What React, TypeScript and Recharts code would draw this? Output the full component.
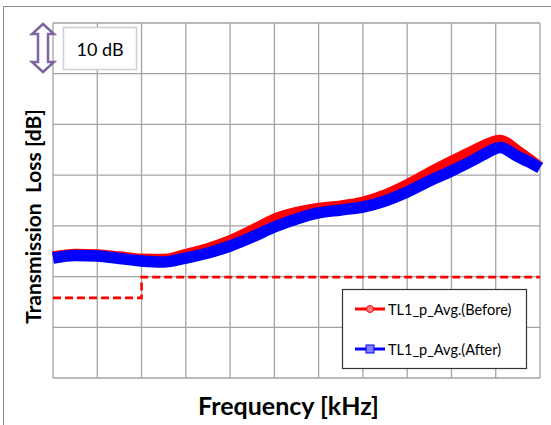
import React from 'react';
import { ComposedChart, Line, XAxis, YAxis, CartesianGrid } from 'recharts';

// Frequency positions (grid units, 11 divisions across the axis)
const freqSteps = [0, 0.5, 1, 1.5, 2, 2.5, 3, 3.5, 4, 4.5, 5, 5.5, 6, 6.5, 7, 7.5, 8, 8.5, 9, 9.5, 9.75, 10.1, 10.5, 10.75, 11];
// Transmission loss (dB scale, 10 dB per grid division)
const tlBefore = [23.9, 24.4, 24.3, 23.9, 23.45, 23.4, 24.4, 25.55, 27.1, 29.15, 31.35, 32.65, 33.5, 33.95, 34.7, 36.1, 38.1, 40.5, 42.75, 44.85, 45.95, 46.9, 44.75, 43.2, 41.55];
const tlAfter = [23.66, 24.16, 24.06, 23.56, 23.07, 22.87, 23.66, 24.65, 26.03, 27.8, 29.78, 31.36, 32.54, 33.13, 33.72, 34.91, 36.68, 38.85, 40.82, 42.99, 44.17, 45.45, 43.64, 42.6, 41.41];
// Dashed criterion line (step)
const limitFreq = [0, 2, 11];
const limitTL = [15.8, 19.9, 19.9];

const xTicks = [0, 1, 2, 3, 4, 5, 6, 7, 8, 9, 10, 11];
const yTicks = [0, 10, 20, 30, 40, 50, 60, 70];

const seriesNames = ['TL1_p_Avg.(Before)', 'TL1_p_Avg.(After)'];
const scaleLabel = '10 dB';

const beforeData = freqSteps.map((f, i) => ({ f, v: tlBefore[i] }));
const afterData = freqSteps.map((f, i) => ({ f, v: tlAfter[i] }));
const limitData = limitFreq.map((f, i) => ({ f, v: limitTL[i] }));

const FONT = 'Lato, "Open Sans", sans-serif';

const XLabel = (props: any) => {
  const { viewBox } = props;
  const cx = viewBox.x + viewBox.width / 2 - 8;
  return (
    <text x={cx} y={viewBox.y + 37} textAnchor="middle" fontFamily={FONT} fontWeight={700} fontSize={25} fill="#000">
      Frequency [kHz]
    </text>
  );
};

const YLabel = (props: any) => {
  const { viewBox } = props;
  const cx = 32;
  const cy = viewBox.y + viewBox.height / 2 + 16;
  return (
    <text x={cx} y={cy} transform={`rotate(-90 ${cx} ${cy})`} textAnchor="middle" dominantBaseline="central" fontFamily={FONT} fontWeight={700} fontSize={21} fill="#000" style={{ whiteSpace: 'pre' }}>
      {'Transmission  Loss [dB]'}
    </text>
  );
};

const vGen = (args: any) => {
  const { xAxis, offset } = args;
  if (xAxis && typeof xAxis.scale === 'function') return xTicks.map((t) => xAxis.scale(t));
  return xTicks.map((t) => offset.left + (t / 11) * offset.width);
};
const hGen = (args: any) => {
  const { yAxis, offset } = args;
  if (yAxis && typeof yAxis.scale === 'function') return yTicks.map((t) => yAxis.scale(t));
  return yTicks.map((t) => offset.top + offset.height - (t / 70) * offset.height);
};

export default function App() {
  return (
    <div style={{ position: 'absolute', left: 0, top: 0, width: 551, height: 425, background: '#fff', overflow: 'hidden' }}>
      <div style={{ position: 'absolute', left: 3, top: 6, width: 600, height: 600, borderLeft: '1.5px solid #8a8a8a', borderTop: '1.5px solid #8a8a8a' }} />
      <div style={{ position: 'absolute', left: 0, top: 0 }}>
        <ComposedChart width={551} height={425} margin={{ top: 23, right: 11, bottom: 0, left: 0 }}>
          <CartesianGrid stroke="#a3a3a3" strokeWidth={1.3} verticalCoordinatesGenerator={vGen} horizontalCoordinatesGenerator={hGen} />
          <XAxis dataKey="f" type="number" domain={[0, 11]} ticks={xTicks} allowDuplicatedCategory={false} height={47} tick={false} tickLine={false} axisLine={false} label={<XLabel />} />
          <YAxis type="number" domain={[0, 70]} ticks={yTicks} width={53} tick={false} tickLine={false} axisLine={false} label={<YLabel />} />
          <Line data={limitData} dataKey="v" type="stepAfter" stroke="#ff0000" strokeWidth={2.6} strokeDasharray="8 4" dot={false} isAnimationActive={false} />
          <Line data={beforeData} dataKey="v" type="monotone" stroke="#ff0000" strokeWidth={11} dot={false} isAnimationActive={false} />
          <Line data={afterData} dataKey="v" type="monotone" stroke="#0000ff" strokeWidth={11.5} dot={false} isAnimationActive={false} />
        </ComposedChart>
      </div>
      <svg width={551} height={425} style={{ position: 'absolute', left: 0, top: 0 }}>
        {/* scale box */}
        <rect x={63.5} y={27.5} width={73} height={42} fill="#fff" stroke="#cfcfcf" strokeWidth={1.5} />
        <text x={100} y={49} textAnchor="middle" dominantBaseline="central" fontFamily={FONT} fontSize={18} fill="#000">{scaleLabel}</text>
        {/* double arrow */}
        <path d="M43,24 L54,34 L48,34 L48,62 L54,62 L43,72 L32,62 L38,62 L38,34 L32,34 Z" fill="#fff" stroke="#8064a2" strokeWidth={2.5} strokeLinejoin="miter" />
        {/* legend */}
        <rect x={342.5} y={289.5} width={184} height={79} fill="#fff" stroke="#333" strokeWidth={1.2} />
        <line x1={355} y1={309} x2={385} y2={309} stroke="#ff0000" strokeWidth={3} />
        <circle cx={370} cy={309} r={3.5} fill="#ff8080" stroke="#ff0000" strokeWidth={1} />
        <text x={388} y={309} dominantBaseline="central" fontFamily={FONT} fontSize={14.5} fill="#000">{seriesNames[0]}</text>
        <line x1={355} y1={349} x2={385} y2={349} stroke="#0000ff" strokeWidth={3} />
        <rect x={366} y={345} width={8} height={8} fill="#8080ff" stroke="#0000ff" strokeWidth={1} />
        <text x={388} y={349} dominantBaseline="central" fontFamily={FONT} fontSize={14.5} fill="#000">{seriesNames[1]}</text>
      </svg>
    </div>
  );
}
